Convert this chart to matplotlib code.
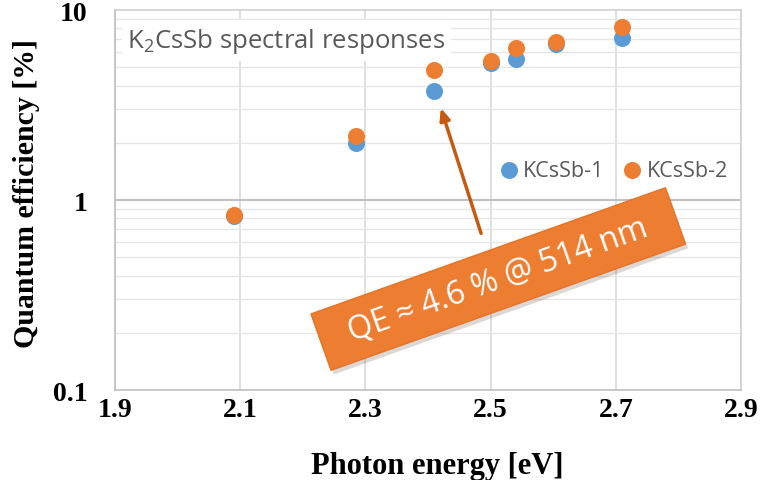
import numpy as np
import matplotlib.pyplot as plt
import matplotlib.patheffects as pe
from matplotlib.ticker import FixedLocator, NullFormatter

# photon energy [eV] and quantum efficiency [%]
energy = [2.09, 2.285, 2.41, 2.50, 2.54, 2.605, 2.71]
qe_1 = [0.82, 2.0, 3.75, 5.25, 5.5, 6.6, 7.1]
qe_2 = [0.83, 2.17, 4.85, 5.4, 6.3, 6.8, 8.1]
x_ticks = [1.9, 2.1, 2.3, 2.5, 2.7, 2.9]
y_ticks = [0.1, 1, 10]
y_tick_labels = ['0.1', '1', '10']

blue = '#5B9BD5'
orange = '#ED7D31'

plt.rcParams['font.family'] = 'Liberation Serif'
plt.rcParams['font.weight'] = 'bold'
plt.rcParams['mathtext.fontset'] = 'custom'
plt.rcParams['mathtext.rm'] = 'Open Sans:weight=normal'
plt.rcParams['mathtext.default'] = 'rm'

fig = plt.figure(figsize=(7.61, 4.81), dpi=100)
ax = fig.add_axes([0.151, 0.187, 0.823, 0.790])

ax.set_yscale('log')
ax.set_xlim(1.9, 2.9)
ax.set_ylim(0.1, 10)

# grid
minor = [m * d for d in (0.1, 1) for m in range(2, 10)]
ax.yaxis.set_minor_locator(FixedLocator(minor))
ax.yaxis.set_minor_formatter(NullFormatter())
ax.set_xticks(x_ticks)
ax.set_yticks(y_ticks)
ax.set_yticklabels(y_tick_labels)
ax.grid(True, which='minor', axis='y', color='#E6E6E6', lw=1)
ax.grid(True, which='major', axis='x', color='#D9D9D9', lw=1.2)
ax.axhline(1, color='#BFBFBF', lw=1.5, zorder=1)
ax.set_axisbelow(True)
for s in ax.spines.values():
    s.set_color('#D0D0D0')
    s.set_linewidth(1.2)
ax.spines['left'].set_color('#BFBFBF')
ax.spines['bottom'].set_color('#BFBFBF')
ax.tick_params(which='both', length=0, labelsize=20)
ax.tick_params(axis='x', pad=5)
ax.tick_params(axis='y', pad=20)

ax.scatter(energy, qe_1, s=150, color=blue, zorder=3, label='KCsSb-1', linewidths=0)
ax.scatter(energy, qe_2, s=150, color=orange, zorder=4, label='KCsSb-2', linewidths=0)

ax.set_xlabel('Photon energy [eV]', fontweight='bold', fontsize=22)
ax.set_ylabel('Quantum efficiency [%]', fontweight='bold', fontsize=21.5)
ax.xaxis.set_label_coords(0.514, -0.16)
ax.yaxis.set_label_coords(-0.12, 0.52)

ax.text(0.02, 0.92, r'K$_2$CsSb spectral responses', transform=ax.transAxes,
        fontfamily='Open Sans', fontweight='normal', fontsize=18.5, color='#595959',
        va='center', ha='left',
        bbox=dict(facecolor='white', edgecolor='none', pad=4), zorder=5)

leg = ax.legend(loc='center', bbox_to_anchor=(0.797, 0.578), ncol=2, frameon=False,
                handlelength=0.8, handletextpad=0.25, columnspacing=0.9, markerscale=1.0,
                prop={'family': 'Open Sans', 'size': 15.5, 'weight': 'normal'})
for t in leg.get_texts():
    t.set_color('#595959')

ax.annotate('', xy=(2.419, 3.15), xytext=(2.486, 0.647),
            arrowprops=dict(arrowstyle='-|>,head_length=0.7,head_width=0.3',
                            color='#C55A11', lw=2.5), zorder=6)

box = ax.text(2.512, 0.384, '  QE ≈ 4.6 % @ 514 nm  ', rotation=19.6, ha='center', va='center',
              fontfamily='Open Sans', fontweight='normal', fontsize=23, color='white',
              zorder=7, rotation_mode='anchor',
              bbox=dict(boxstyle='square,pad=0.42', facecolor=orange, edgecolor='#E57328', lw=1))
box.get_bbox_patch().set_path_effects([pe.SimplePatchShadow(offset=(2, -3), alpha=0.18),
                                       pe.Normal()])

fig.savefig('out.png', dpi=100)
